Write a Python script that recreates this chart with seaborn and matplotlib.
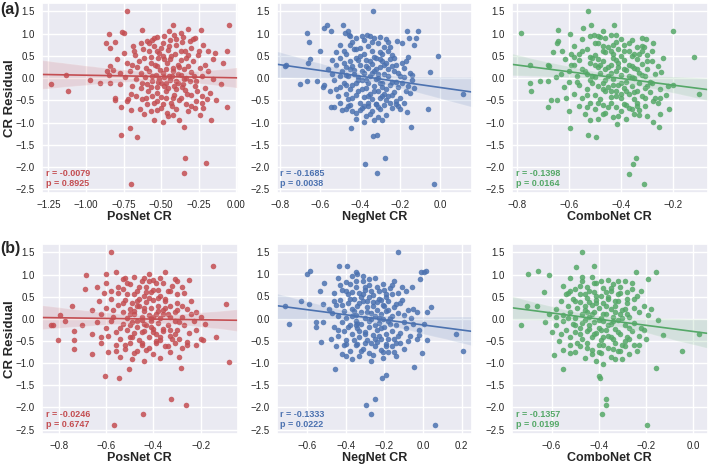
import matplotlib
matplotlib.use("Agg")
import matplotlib.pyplot as plt
from matplotlib.ticker import MultipleLocator
import pandas as pd
import seaborn as sns

# (network CR, CR residual) pairs
pos_a = [
    (-0.727, 1.50), (-0.423, 1.19), (-0.32, 1.10), (-0.236, 1.08), (-0.052, 1.19), (-0.761, 1.03),
    (-0.745, 1.02), (-0.845, 0.99), (-0.626, 1.09), (-0.446, 1.05), (-0.48, 0.95), (-0.412, 0.98),
    (-0.367, 1.01), (-0.356, 0.92), (-0.525, 0.92), (-0.56, 0.86), (-0.277, 0.90), (-0.31, 0.83),
    (-0.867, 0.80), (-0.81, 0.81), (-0.84, 0.68), (-0.75, 0.57), (-0.687, 0.72), (-0.671, 0.53),
    (-0.637, 0.79), (-0.592, 0.83), (-0.58, 0.60), (-0.615, 0.45), (-0.547, 0.72), (-0.514, 0.57),
    (-0.491, 0.79), (-0.457, 0.64), (-0.435, 0.49), (-0.40, 0.75), (-0.367, 0.60), (-0.333, 0.45),
    (-0.30, 0.68), (-0.255, 0.53), (-0.221, 0.75), (-0.187, 0.60), (-0.142, 0.57), (-0.158, 0.42),
    (-0.088, 0.33), (-0.061, 0.62), (-0.795, 0.42), (-0.727, 0.34), (-0.84, 0.27), (-0.694, 0.30),
    (-0.65, 0.38), (-0.57, 0.34), (-0.525, 0.27), (-0.48, 0.42), (-0.39, 0.30), (-0.322, 0.27),
    (-0.29, 0.38), (-0.21, 0.30), (-0.243, 0.23), (-0.863, 0.155), (-0.85, 0.06), (-0.818, 0.19),
    (-0.773, 0.12), (-0.74, 0.02), (-0.705, 0.155), (-0.67, -0.03), (-0.637, 0.12), (-0.61, 0.02),
    (-0.58, 0.155), (-0.56, -0.07), (-0.536, 0.08), (-0.514, -0.01), (-0.49, 0.12), (-0.468, -0.11),
    (-0.446, 0.04), (-0.423, 0.155), (-0.40, -0.055), (-0.367, 0.08), (-0.333, 0.005), (-0.30, 0.14),
    (-0.266, -0.07), (-0.232, 0.04), (-0.187, 0.155), (-0.158, -0.03), (-0.10, -0.13), (-0.84, -0.11),
    (-0.908, -0.10), (-0.975, -0.04), (-1.133, 0.06), (-1.234, -0.13), (-1.12, -0.28), (-0.592, -0.14),
    (-0.525, -0.20), (-0.457, -0.23), (-0.412, -0.18), (-0.345, -0.26), (-0.277, -0.18), (-0.21, -0.23),
    (-0.694, -0.18), (-0.637, -0.23), (-0.773, -0.14), (-0.502, -0.11), (-0.356, -0.13), (-0.311, -0.07),
    (-0.81, -0.44), (-0.81, -0.50), (-0.768, -0.65), (-0.73, -0.52), (-0.70, -0.71), (-0.64, -0.70),
    (-0.615, -0.80), (-0.67, -0.41), (-0.626, -0.48), (-0.592, -0.59), (-0.56, -0.41), (-0.525, -0.52),
    (-0.502, -0.67), (-0.468, -0.44), (-0.435, -0.555), (-0.40, -0.70), (-0.367, -0.44), (-0.333, -0.59),
    (-0.30, -0.37), (-0.266, -0.52), (-0.232, -0.41), (-0.198, -0.48), (-0.135, -0.49), (-0.06, -0.64),
    (-0.17, -0.95), (-0.243, -0.82), (-0.35, -1.10), (-0.547, -0.94), (-0.487, -0.99), (-0.383, -0.95),
    (-0.457, -0.85), (-0.423, -0.82), (-0.57, -0.74), (-0.525, -0.33), (-0.412, -0.37), (-0.322, -0.74),
    (-0.277, -0.67), (-0.176, -0.33), (-0.221, -0.67), (-0.768, -1.28), (-0.705, -1.12), (-0.664, -1.33),
    (-0.70, -2.39), (-0.34, -1.79), (-0.35, -2.14), (-0.20, -1.92),
    (-0.62, 0.65), (-0.60, 0.22), (-0.59, -0.30), (-0.57, 0.48), (-0.56, 0.05), (-0.55, -0.55),
    (-0.54, 0.30), (-0.53, 0.62), (-0.52, -0.08), (-0.51, 0.18), (-0.50, -0.42), (-0.49, 0.50),
    (-0.48, 0.02), (-0.47, -0.28), (-0.46, 0.35), (-0.45, 0.72), (-0.44, -0.05), (-0.43, -0.62),
    (-0.42, 0.22), (-0.41, 0.55), (-0.40, -0.25), (-0.39, 0.10), (-0.38, -0.50), (-0.37, 0.40),
    (-0.36, 0.82), (-0.35, -0.02), (-0.34, 0.60), (-0.33, -0.35), (-0.58, 0.80), (-0.55, 0.90),
    (-0.50, 0.68), (-0.47, 0.20), (-0.44, 0.42), (-0.42, -0.45), (-0.40, 0.88), (-0.38, 0.25),
    (-0.36, -0.20), (-0.60, -0.45), (-0.63, -0.12), (-0.66, 0.25), (-0.68, 0.62), (-0.70, -0.35),
    (-0.72, -0.48), (-0.28, 0.05), (-0.26, -0.30), (-0.25, 0.62), (-0.23, -0.55), (-0.30, -0.62),
    (-0.32, 0.52), (-0.29, 0.88), (-0.53, -0.72), (-0.49, -0.58), (-0.46, -0.78), (-0.44, 0.85),
    (-0.57, -0.20), (-0.52, 0.45), (-0.48, -0.18), (-0.43, 0.05), (-0.39, -0.10), (-0.35, 0.20),
]

neg_a = [
    (-0.336, 1.50), (-0.566, 1.20), (-0.583, 1.13), (-0.549, 1.07), (-0.668, 1.01), (-0.656, 0.81),
    (-0.60, 0.62), (-0.489, 1.19), (-0.476, 1.01), (-0.464, 1.05), (-0.455, 0.98), (-0.365, 0.98),
    (-0.35, 0.94), (-0.165, 1.05), (-0.114, 1.07), (-0.123, 0.90), (-0.216, 0.83), (-0.19, 0.79),
    (-0.012, 0.49), (-0.054, 0.14), (-0.063, -0.70), (-0.148, -1.10), (-0.165, -0.76), (-0.153, -0.33),
    (0.114, -0.35), (-0.771, 0.30), (-0.775, 0.27), (-0.702, -0.13), (-0.668, -0.055), (-0.651, 0.42),
    (-0.663, 0.34), (-0.617, -0.055), (-0.586, -0.20), (-0.549, -0.65), (-0.532, -0.65), (-0.447, -1.12),
    (-0.443, -0.74), (-0.42, -0.93), (-0.336, -1.30), (-0.315, -1.27), (-0.377, -1.94), (-0.315, -2.14),
    (-0.276, -1.80), (-0.032, -2.39), (-0.157, 0.90), (-0.131, 0.75),
    (-0.52, 0.58), (-0.50, 0.75), (-0.47, 0.55), (-0.44, 0.82), (-0.42, 0.66), (-0.40, 0.50),
    (-0.38, 0.85), (-0.36, 0.72), (-0.34, 0.60), (-0.33, 0.90), (-0.31, 0.78), (-0.29, 0.55),
    (-0.28, 0.70), (-0.26, 0.62), (-0.24, 0.52), (-0.45, 0.95), (-0.39, 0.95), (-0.30, 0.92),
    (-0.27, 0.88), (-0.56, 0.20), (-0.54, 0.10), (-0.52, 0.30), (-0.50, 0.45), (-0.49, 0.15),
    (-0.47, 0.25), (-0.46, 0.05), (-0.45, 0.38), (-0.43, 0.18), (-0.42, 0.45), (-0.41, 0.02),
    (-0.40, 0.30), (-0.38, 0.12), (-0.37, 0.40), (-0.36, 0.22), (-0.35, 0.05), (-0.34, 0.32),
    (-0.33, 0.15), (-0.32, 0.45), (-0.31, 0.00), (-0.30, 0.25), (-0.29, 0.38), (-0.28, 0.10),
    (-0.26, 0.20), (-0.25, 0.42), (-0.23, 0.15), (-0.22, 0.30), (-0.20, 0.05), (-0.18, 0.22),
    (-0.17, 0.38), (-0.15, 0.12), (-0.14, 0.08), (-0.48, 0.35), (-0.44, 0.28), (-0.58, -0.15),
    (-0.55, -0.30), (-0.53, -0.05), (-0.51, -0.40), (-0.50, -0.20), (-0.48, -0.10), (-0.47, -0.35),
    (-0.45, -0.25), (-0.44, -0.45), (-0.42, -0.12), (-0.41, -0.30), (-0.39, -0.05), (-0.38, -0.42),
    (-0.37, -0.22), (-0.36, -0.10), (-0.35, -0.35), (-0.34, -0.48), (-0.33, -0.18), (-0.32, -0.02),
    (-0.31, -0.30), (-0.30, -0.45), (-0.29, -0.12), (-0.27, -0.25), (-0.26, -0.40), (-0.24, -0.08),
    (-0.23, -0.32), (-0.21, -0.20), (-0.20, -0.45), (-0.19, -0.10), (-0.17, -0.28), (-0.16, -0.18),
    (-0.14, -0.05), (-0.13, -0.22), (-0.46, -0.48), (-0.50, -0.55), (-0.47, -0.70), (-0.45, -0.60),
    (-0.42, -0.78), (-0.40, -0.55), (-0.39, -0.68), (-0.37, -0.85), (-0.36, -0.62), (-0.34, -0.75),
    (-0.33, -0.95), (-0.32, -0.58), (-0.31, -0.88), (-0.30, -0.70), (-0.28, -0.60), (-0.27, -0.82),
    (-0.25, -0.55), (-0.24, -0.68), (-0.22, -0.52), (-0.21, -0.62), (-0.18, -0.55), (-0.38, -0.98),
    (-0.29, -0.95),
    (-0.48, 0.60), (-0.47, 0.08), (-0.46, -0.62), (-0.45, 0.20), (-0.44, -0.15), (-0.43, 0.65),
    (-0.42, -0.38), (-0.41, 0.40), (-0.40, -0.72), (-0.39, 0.15), (-0.38, 0.55), (-0.37, -0.05),
    (-0.36, -0.55), (-0.35, 0.38), (-0.34, 0.82), (-0.33, -0.30), (-0.32, 0.20), (-0.31, -0.65),
    (-0.30, 0.58), (-0.29, -0.20), (-0.28, 0.30), (-0.27, -0.50), (-0.26, 0.05), (-0.25, 0.70),
    (-0.24, -0.38), (-0.23, 0.45), (-0.22, -0.08), (-0.21, 0.12), (-0.20, -0.70), (-0.19, 0.35),
    (-0.43, 0.10), (-0.41, -0.05), (-0.39, -0.25), (-0.37, 0.28), (-0.35, -0.80), (-0.33, 0.48),
    (-0.31, 0.10), (-0.29, -0.40), (-0.27, 0.35), (-0.25, -0.15), (-0.50, 0.05), (-0.52, -0.25),
    (-0.54, 0.40), (-0.49, -0.72), (-0.45, 0.75), (-0.40, 0.68), (-0.36, -0.40), (-0.34, 0.12),
    (-0.32, -0.58), (-0.30, 0.42), (-0.28, -0.35), (-0.26, 0.82), (-0.24, 0.28), (-0.22, -0.58),
    (-0.18, 0.02), (-0.16, 0.48), (-0.47, -0.15), (-0.38, -0.62), (-0.42, 0.90), (-0.30, -0.10),
]

combo_a = [
    (-0.784, 1.01), (-0.747, 0.29), (-0.747, -0.11), (-0.744, -0.28), (-0.712, -0.07), (-0.68, 0.30),
    (-0.676, 0.27), (-0.679, -0.055), (-0.68, -0.65), (-0.668, -0.50), (-0.646, -0.50), (-0.66, 0.59),
    (-0.646, 0.79), (-0.642, 0.83), (-0.642, 1.09), (-0.626, 0.62), (-0.613, 0.42), (-0.596, 0.99),
    (-0.60, -0.73), (-0.597, -1.13), (-0.528, -1.27), (-0.497, -1.33), (-0.528, 1.50), (-0.547, 1.13),
    (-0.514, 1.19), (-0.505, 0.98), (-0.488, 0.94), (-0.471, 1.05), (-0.429, 1.19), (-0.42, 0.98),
    (-0.321, 0.90), (-0.304, 0.89), (-0.278, 0.79), (-0.313, 0.69), (-0.20, 1.07), (-0.12, 0.47),
    (-0.103, -0.35), (-0.20, -0.16), (-0.247, 0.14), (-0.218, -0.70), (-0.251, -0.80), (-0.278, -0.98),
    (-0.255, -1.10), (-0.278, -0.52), (-0.25, -0.44), (-0.343, -1.79), (-0.353, -1.94), (-0.37, -2.15),
    (-0.311, -2.39), (-0.416, -1.04),
    (-0.58, 0.72), (-0.56, 0.55), (-0.55, 0.88), (-0.53, 0.65), (-0.52, 0.95), (-0.50, 0.52),
    (-0.49, 0.78), (-0.47, 0.60), (-0.46, 0.90), (-0.45, 0.70), (-0.43, 0.55), (-0.42, 0.82),
    (-0.41, 0.65), (-0.40, 0.50), (-0.39, 0.75), (-0.37, 0.62), (-0.36, 0.85), (-0.35, 0.55),
    (-0.34, 0.70), (-0.32, 0.60), (-0.30, 0.52), (-0.44, 0.98), (-0.60, 0.15), (-0.59, 0.30),
    (-0.57, 0.05), (-0.56, 0.40), (-0.55, 0.20), (-0.53, 0.10), (-0.52, 0.35), (-0.51, 0.45),
    (-0.50, 0.02), (-0.49, 0.25), (-0.48, 0.12), (-0.47, 0.38), (-0.46, 0.20), (-0.45, 0.05),
    (-0.44, 0.30), (-0.43, 0.45), (-0.42, 0.15), (-0.41, 0.25), (-0.40, 0.08), (-0.39, 0.40),
    (-0.38, 0.18), (-0.37, 0.30), (-0.36, 0.02), (-0.35, 0.22), (-0.34, 0.42), (-0.33, 0.12),
    (-0.32, 0.32), (-0.31, 0.05), (-0.30, 0.20), (-0.28, 0.38), (-0.27, 0.10), (-0.26, 0.28),
    (-0.63, 0.10), (-0.58, 0.48), (-0.65, 0.02), (-0.62, -0.20), (-0.60, -0.08), (-0.58, -0.35),
    (-0.56, -0.15), (-0.55, -0.45), (-0.53, -0.25), (-0.52, -0.05), (-0.50, -0.38), (-0.49, -0.18),
    (-0.48, -0.48), (-0.47, -0.10), (-0.46, -0.30), (-0.45, -0.20), (-0.44, -0.42), (-0.43, -0.02),
    (-0.42, -0.28), (-0.41, -0.15), (-0.40, -0.45), (-0.39, -0.22), (-0.38, -0.08), (-0.37, -0.35),
    (-0.36, -0.18), (-0.35, -0.48), (-0.34, -0.28), (-0.33, -0.10), (-0.32, -0.40), (-0.31, -0.22),
    (-0.29, -0.32), (-0.28, -0.12), (-0.27, -0.45), (-0.25, -0.25), (-0.23, -0.38), (-0.22, -0.18),
    (-0.56, -0.62), (-0.54, -0.80), (-0.52, -0.55), (-0.50, -0.70), (-0.49, -0.92), (-0.47, -0.60),
    (-0.46, -0.78), (-0.44, -0.55), (-0.43, -0.88), (-0.42, -0.65), (-0.40, -0.75), (-0.39, -0.58),
    (-0.38, -0.92), (-0.37, -0.68), (-0.35, -0.80), (-0.34, -0.56), (-0.33, -0.72), (-0.31, -0.62),
    (-0.30, -0.85), (-0.52, -0.95),
    (-0.55, 0.62), (-0.54, 0.15), (-0.53, -0.38), (-0.52, 0.48), (-0.51, -0.12), (-0.50, 0.78),
    (-0.49, -0.55), (-0.48, 0.30), (-0.47, -0.25), (-0.46, 0.58), (-0.45, -0.65), (-0.44, 0.12),
    (-0.43, 0.75), (-0.42, -0.40), (-0.41, 0.35), (-0.40, -0.10), (-0.39, 0.62), (-0.38, -0.60),
    (-0.37, 0.05), (-0.36, 0.50), (-0.35, -0.32), (-0.34, 0.20), (-0.33, -0.82), (-0.32, 0.72),
    (-0.31, -0.45), (-0.30, 0.38), (-0.29, -0.08), (-0.57, -0.08), (-0.59, 0.55), (-0.61, -0.45),
    (-0.48, 0.92), (-0.46, -0.05), (-0.44, -0.30), (-0.42, 0.40), (-0.40, 0.88), (-0.38, -0.30),
    (-0.36, 0.28), (-0.34, -0.62), (-0.32, 0.08), (-0.28, 0.62), (-0.26, -0.55), (-0.24, 0.45),
    (-0.50, 0.30), (-0.47, 0.72), (-0.45, 0.25), (-0.43, -0.15), (-0.41, -0.85), (-0.39, 0.20),
    (-0.37, 0.78), (-0.35, 0.00), (-0.53, -0.65), (-0.51, 0.05), (-0.49, 0.42), (-0.44, 0.62),
    (-0.40, -0.35), (-0.36, -0.70), (-0.33, 0.55), (-0.30, -0.18), (-0.58, 0.30), (-0.47, -0.80),
]

pos_b = [
    (-0.581, 1.50), (-0.147, 1.19), (-0.092, 0.33), (-0.082, -0.97), (-0.136, -0.41), (-0.688, 0.68),
    (-0.683, 0.98), (-0.742, 0.29), (-0.734, -0.28), (-0.737, -0.48), (-0.737, -0.68), (-0.803, -0.48),
    (-0.834, -0.13), (-0.825, -0.13), (-0.793, 0.08), (-0.775, -0.06), (-0.658, -0.80), (-0.606, -1.28),
    (-0.547, -1.34), (-0.504, -1.13), (-0.565, -2.40), (-0.445, -2.15), (-0.326, -1.80), (-0.264, -1.94),
    (-0.285, -1.12), (-0.60, 1.01),
    (-0.60, 0.80), (-0.58, 0.62), (-0.56, 1.05), (-0.55, 0.72), (-0.53, 0.90), (-0.51, 0.55),
    (-0.50, 0.78), (-0.48, 0.95), (-0.47, 0.62), (-0.45, 0.85), (-0.44, 0.52), (-0.43, 0.72),
    (-0.42, 1.02), (-0.41, 0.60), (-0.40, 0.88), (-0.38, 0.66), (-0.37, 0.52), (-0.36, 0.80),
    (-0.35, 1.05), (-0.33, 0.62), (-0.31, 0.90), (-0.30, 0.55), (-0.28, 0.72), (-0.27, 0.58),
    (-0.25, 0.88), (-0.66, 0.20), (-0.63, 0.40), (-0.62, 0.10), (-0.60, 0.25), (-0.58, 0.45),
    (-0.57, 0.05), (-0.55, 0.32), (-0.53, 0.15), (-0.52, 0.42), (-0.51, 0.02), (-0.50, 0.22),
    (-0.49, 0.35), (-0.48, 0.10), (-0.47, 0.28), (-0.46, 0.45), (-0.45, 0.05), (-0.44, 0.18),
    (-0.43, 0.38), (-0.42, 0.08), (-0.41, 0.25), (-0.40, 0.42), (-0.39, 0.12), (-0.38, 0.30),
    (-0.37, 0.02), (-0.36, 0.20), (-0.35, 0.40), (-0.34, 0.10), (-0.33, 0.28), (-0.31, 0.15),
    (-0.30, 0.35), (-0.28, 0.05), (-0.26, 0.22), (-0.24, 0.40), (-0.22, 0.15), (-0.20, 0.05),
    (-0.19, -0.48), (-0.70, -0.15), (-0.66, -0.35), (-0.64, -0.08), (-0.62, -0.42), (-0.60, -0.20),
    (-0.58, -0.05), (-0.56, -0.30), (-0.54, -0.45), (-0.53, -0.12), (-0.51, -0.25), (-0.50, -0.40),
    (-0.49, -0.08), (-0.48, -0.32), (-0.47, -0.18), (-0.46, -0.48), (-0.45, -0.02), (-0.44, -0.28),
    (-0.43, -0.15), (-0.42, -0.42), (-0.41, -0.05), (-0.40, -0.22), (-0.39, -0.35), (-0.38, -0.10),
    (-0.37, -0.48), (-0.36, -0.28), (-0.34, -0.15), (-0.33, -0.38), (-0.31, -0.05), (-0.30, -0.25),
    (-0.29, -0.45), (-0.27, -0.15), (-0.25, -0.32), (-0.23, -0.05), (-0.22, -0.25), (-0.20, -0.45),
    (-0.18, -0.12), (-0.62, -0.55), (-0.59, -0.75), (-0.56, -0.60), (-0.54, -0.85), (-0.52, -0.68),
    (-0.50, -0.55), (-0.49, -0.90), (-0.47, -0.72), (-0.45, -0.58), (-0.44, -0.95), (-0.42, -0.65),
    (-0.40, -0.80), (-0.39, -0.55), (-0.37, -0.88), (-0.35, -0.62), (-0.33, -0.75), (-0.31, -0.55),
    (-0.29, -0.85), (-0.28, -0.65), (-0.26, -0.52),
    (-0.55, 0.58), (-0.54, -0.20), (-0.53, 0.35), (-0.52, -0.60), (-0.51, 0.80), (-0.50, 0.10),
    (-0.49, -0.42), (-0.48, 0.55), (-0.47, -0.05), (-0.46, 0.72), (-0.45, -0.30), (-0.44, 0.25),
    (-0.43, -0.70), (-0.42, 0.48), (-0.41, 0.02), (-0.40, 0.65), (-0.39, -0.50), (-0.38, 0.18),
    (-0.37, 0.92), (-0.36, -0.22), (-0.35, 0.45), (-0.34, -0.62), (-0.33, 0.05), (-0.32, 0.75),
    (-0.31, -0.35), (-0.30, 0.20), (-0.29, -0.08), (-0.57, 0.20), (-0.59, -0.38), (-0.61, 0.58),
    (-0.52, 0.92), (-0.48, -0.78), (-0.46, 0.30), (-0.44, -0.12), (-0.42, 0.85), (-0.40, -0.30),
    (-0.38, 0.48), (-0.36, 0.10), (-0.34, 0.62), (-0.32, -0.45), (-0.28, 0.30), (-0.26, -0.60),
    (-0.24, 0.12), (-0.50, -0.15), (-0.47, 0.40), (-0.45, -0.55), (-0.43, 0.60), (-0.41, -0.18),
    (-0.39, 0.80), (-0.37, -0.40), (-0.35, 0.25), (-0.53, 0.68), (-0.56, -0.72), (-0.48, 0.18),
    (-0.44, 0.92), (-0.40, 0.05), (-0.33, -0.25), (-0.30, 0.85), (-0.64, 0.72), (-0.22, -0.60),
]

neg_b = [
    (-0.129, 1.49), (-0.60, 1.01), (-0.584, 1.07), (-0.634, 0.39), (-0.589, 0.32), (-0.714, 0.29),
    (-0.696, -0.13), (-0.554, -0.07), (-0.554, -0.18), (-0.53, -0.52), (-0.536, 0.62), (-0.512, 0.81),
    (-0.518, 0.32), (-0.518, -0.08), (-0.455, -1.13), (-0.434, 1.19), (-0.393, 1.19), (-0.348, 1.04),
    (-0.009, 1.05), (0.005, 1.05), (0.018, 1.07), (-0.018, 0.90), (0.041, 0.27), (0.023, 0.14),
    (0.005, -0.13), (-0.023, -0.37), (-0.03, -0.46), (0.023, -0.48), (-0.005, -0.78), (-0.048, -1.10),
    (0.173, -0.35), (0.209, -0.73), (0.062, -2.40), (-0.214, -1.33), (-0.191, -1.28), (-0.25, -1.80),
    (-0.295, -1.94), (-0.271, -2.15), (-0.052, 0.21), (-0.059, 0.71),
    (-0.44, 0.92), (-0.42, 0.65), (-0.40, 0.82), (-0.39, 0.55), (-0.37, 0.95), (-0.35, 0.70),
    (-0.33, 0.58), (-0.31, 0.85), (-0.30, 0.65), (-0.28, 0.75), (-0.26, 0.52), (-0.25, 0.92),
    (-0.23, 0.62), (-0.21, 0.78), (-0.19, 0.55), (-0.17, 0.68), (-0.15, 0.85), (-0.13, 0.58),
    (-0.11, 0.72), (-0.09, 0.62), (-0.46, 0.58), (-0.34, 1.00), (-0.47, 0.12), (-0.45, 0.30),
    (-0.44, 0.05), (-0.43, 0.42), (-0.41, 0.18), (-0.40, 0.02), (-0.39, 0.35), (-0.37, 0.22),
    (-0.36, 0.45), (-0.35, 0.08), (-0.34, 0.28), (-0.32, 0.15), (-0.31, 0.40), (-0.30, 0.02),
    (-0.29, 0.25), (-0.27, 0.12), (-0.26, 0.38), (-0.25, 0.05), (-0.24, 0.20), (-0.23, 0.45),
    (-0.22, 0.10), (-0.21, 0.30), (-0.19, 0.18), (-0.18, 0.40), (-0.16, 0.05), (-0.15, 0.25),
    (-0.13, 0.12), (-0.12, 0.35), (-0.10, 0.08), (-0.08, 0.20), (-0.06, 0.02), (-0.03, 0.15),
    (-0.49, 0.22), (-0.28, 0.48), (-0.46, -0.20), (-0.44, -0.40), (-0.42, -0.08), (-0.41, -0.28),
    (-0.40, -0.48), (-0.38, -0.15), (-0.37, -0.35), (-0.35, -0.05), (-0.34, -0.22), (-0.33, -0.42),
    (-0.32, -0.12), (-0.30, -0.30), (-0.29, -0.48), (-0.28, -0.18), (-0.27, -0.02), (-0.26, -0.38),
    (-0.24, -0.25), (-0.23, -0.10), (-0.22, -0.45), (-0.20, -0.20), (-0.19, -0.35), (-0.18, -0.05),
    (-0.16, -0.28), (-0.15, -0.45), (-0.14, -0.15), (-0.12, -0.32), (-0.10, -0.08), (-0.09, -0.22),
    (-0.07, -0.40), (-0.05, -0.12), (-0.02, -0.25), (-0.48, -0.45), (-0.45, -0.62), (-0.42, -0.80),
    (-0.40, -0.58), (-0.38, -0.72), (-0.37, -0.92), (-0.35, -0.60), (-0.33, -0.85), (-0.31, -0.68),
    (-0.30, -0.55), (-0.28, -0.78), (-0.27, -0.95), (-0.25, -0.62), (-0.24, -0.52), (-0.22, -0.70),
    (-0.21, -0.88), (-0.19, -0.58), (-0.18, -0.75), (-0.16, -0.62), (-0.14, -0.85), (-0.12, -0.55),
    (-0.10, -0.68),
    (-0.42, 0.30), (-0.41, -0.60), (-0.40, 0.62), (-0.39, -0.20), (-0.38, 0.45), (-0.37, 0.05),
    (-0.36, -0.48), (-0.35, 0.85), (-0.34, -0.10), (-0.33, 0.35), (-0.32, -0.72), (-0.31, 0.55),
    (-0.30, -0.35), (-0.29, 0.15), (-0.28, 0.88), (-0.27, -0.55), (-0.26, 0.28), (-0.25, -0.15),
    (-0.24, 0.70), (-0.23, -0.40), (-0.22, 0.42), (-0.21, 0.00), (-0.20, 0.65), (-0.19, -0.62),
    (-0.18, 0.20), (-0.17, -0.12), (-0.16, 0.55), (-0.15, -0.75), (-0.14, 0.32), (-0.13, -0.40),
    (-0.38, 0.78), (-0.36, 0.18), (-0.34, -0.58), (-0.32, 0.48), (-0.30, 0.72), (-0.28, -0.05),
    (-0.26, -0.82), (-0.24, 0.38), (-0.22, -0.22), (-0.20, 0.28), (-0.18, -0.45), (-0.16, 0.75),
    (-0.44, -0.25), (-0.46, 0.40), (-0.40, -0.85), (-0.37, 0.60), (-0.33, -0.28), (-0.29, 0.40),
    (-0.27, 0.62), (-0.25, -0.45), (-0.23, 0.02), (-0.21, -0.75), (-0.19, 0.48), (-0.17, 0.02),
    (-0.14, -0.55), (-0.11, 0.42), (-0.08, -0.50), (-0.35, -0.15), (-0.31, 0.95), (-0.43, 0.75),
]

combo_b = [
    (-0.47, 1.50), (-0.70, 1.01), (-0.657, 1.07), (-0.609, 0.98), (-0.704, 0.29), (-0.663, 0.30),
    (-0.73, -0.13), (-0.628, -0.07), (-0.631, 0.60), (-0.59, -0.82), (-0.55, -1.13), (-0.156, 1.05),
    (-0.244, 1.05), (-0.193, 0.89), (-0.178, 0.23), (-0.149, -0.03), (-0.127, -0.37), (-0.159, -1.10),
    (-0.047, -0.73), (0.023, -0.35), (-0.196, -2.40), (-0.385, -2.15), (-0.368, -1.94), (-0.368, -1.80),
    (-0.397, -1.28), (-0.394, -1.33), (-0.419, 1.19), (-0.495, 1.16),
    (-0.55, 0.75), (-0.53, 0.58), (-0.52, 0.92), (-0.50, 0.68), (-0.48, 0.55), (-0.47, 0.85),
    (-0.45, 0.72), (-0.43, 0.95), (-0.42, 0.60), (-0.41, 0.80), (-0.39, 0.52), (-0.38, 0.70),
    (-0.36, 0.88), (-0.35, 0.62), (-0.34, 0.78), (-0.32, 0.55), (-0.31, 0.72), (-0.29, 0.85),
    (-0.28, 0.60), (-0.26, 0.68), (-0.24, 0.52), (-0.22, 0.62), (-0.58, 0.22), (-0.56, 0.40),
    (-0.55, 0.08), (-0.53, 0.30), (-0.52, 0.15), (-0.51, 0.45), (-0.50, 0.02), (-0.49, 0.25),
    (-0.48, 0.38), (-0.47, 0.10), (-0.46, 0.20), (-0.45, 0.48), (-0.44, 0.05), (-0.43, 0.32),
    (-0.42, 0.15), (-0.41, 0.42), (-0.40, 0.25), (-0.39, 0.02), (-0.38, 0.35), (-0.37, 0.12),
    (-0.36, 0.45), (-0.35, 0.22), (-0.34, 0.05), (-0.33, 0.30), (-0.32, 0.40), (-0.31, 0.12),
    (-0.30, 0.20), (-0.28, 0.35), (-0.27, 0.05), (-0.25, 0.25), (-0.23, 0.15), (-0.21, 0.30),
    (-0.19, 0.08), (-0.61, 0.10), (-0.60, -0.30), (-0.58, -0.15), (-0.57, -0.50), (-0.55, -0.05),
    (-0.54, -0.25), (-0.52, -0.40), (-0.51, -0.12), (-0.50, -0.30), (-0.48, -0.20), (-0.47, -0.45),
    (-0.46, -0.02), (-0.45, -0.28), (-0.44, -0.15), (-0.43, -0.42), (-0.42, -0.08), (-0.41, -0.32),
    (-0.40, -0.20), (-0.39, -0.48), (-0.38, -0.05), (-0.37, -0.25), (-0.36, -0.38), (-0.35, -0.12),
    (-0.34, -0.45), (-0.33, -0.22), (-0.32, -0.02), (-0.31, -0.35), (-0.29, -0.15), (-0.28, -0.42),
    (-0.26, -0.28), (-0.25, -0.10), (-0.23, -0.38), (-0.22, -0.20), (-0.20, -0.45), (-0.55, -0.70),
    (-0.52, -0.58), (-0.50, -0.75), (-0.48, -0.62), (-0.46, -0.88), (-0.45, -0.55), (-0.43, -0.70),
    (-0.41, -0.95), (-0.40, -0.60), (-0.39, -0.78), (-0.38, -1.02), (-0.36, -0.65), (-0.35, -0.85),
    (-0.33, -0.55), (-0.32, -0.72), (-0.30, -0.90), (-0.29, -0.62), (-0.27, -0.80), (-0.25, -0.58),
    (-0.24, -0.72),
    (-0.50, 0.40), (-0.49, -0.55), (-0.48, 0.75), (-0.47, -0.10), (-0.46, 0.30), (-0.45, -0.65),
    (-0.44, 0.62), (-0.43, 0.10), (-0.42, -0.35), (-0.41, 0.52), (-0.40, -0.02), (-0.39, 0.85),
    (-0.38, -0.58), (-0.37, 0.28), (-0.36, -0.15), (-0.35, 0.70), (-0.34, -0.68), (-0.33, 0.15),
    (-0.32, -0.30), (-0.31, 0.58), (-0.30, 0.02), (-0.29, -0.50), (-0.28, 0.45), (-0.27, -0.20),
    (-0.26, 0.80), (-0.53, 0.02), (-0.52, -0.78), (-0.54, 0.55), (-0.56, -0.35), (-0.47, 0.95),
    (-0.45, 0.15), (-0.43, -0.80), (-0.41, 0.35), (-0.39, -0.25), (-0.37, 0.60), (-0.35, -0.42),
    (-0.33, 0.40), (-0.31, -0.72), (-0.29, 0.22), (-0.27, -0.45), (-0.25, 0.45), (-0.23, -0.60),
    (-0.48, -0.35), (-0.46, 0.55), (-0.44, -0.22), (-0.42, 0.80), (-0.40, -0.75), (-0.38, 0.10),
    (-0.36, 0.50), (-0.34, -0.05), (-0.32, 0.85), (-0.30, -0.60), (-0.52, 0.62), (-0.50, -0.15),
    (-0.44, 0.38), (-0.38, -0.40), (-0.33, -0.90), (-0.28, 0.10), (-0.21, -0.25), (-0.58, 0.05),
]

x_labels = ["PosNet CR", "NegNet CR", "ComboNet CR"]
stats_a = ["r = -0.0079\np = 0.8925", "r = -0.1685\np = 0.0038", "r = -0.1398\np = 0.0164"]
stats_b = ["r = -0.0246\np = 0.6747", "r = -0.1333\np = 0.0222", "r = -0.1357\np = 0.0199"]
row_tags = ["(a)", "(b)"]

sns.set_theme(style="darkgrid")
plt.rcParams["font.family"] = ["Liberation Sans", "DejaVu Sans"]
colors = sns.color_palette("deep")
panel_colors = [colors[3], colors[0], colors[2]]

fig = plt.figure(figsize=(7.09, 4.66), dpi=100)
lefts = [0.059, 0.390, 0.722]
bottoms = [0.586, 0.069]
w, h = 0.276, 0.408

rows = [[pos_a, neg_a, combo_a], [pos_b, neg_b, combo_b]]
stats = [stats_a, stats_b]

for r in range(2):
    for c in range(3):
        ax = fig.add_axes([lefts[c], bottoms[r], w, h])
        df = pd.DataFrame(rows[r][c], columns=["x", "resid"])
        sns.regplot(
            data=df, x="x", y="resid", ax=ax,
            color=panel_colors[c], truncate=False, seed=0,
            scatter_kws={"s": 16, "alpha": 0.85, "linewidths": 0},
            line_kws={"lw": 1.2},
        )
        ax.yaxis.set_major_locator(MultipleLocator(0.5))
        ax.tick_params(labelsize=7, length=0, pad=5)
        ax.set_xlabel(x_labels[c], fontsize=9, fontweight="bold", labelpad=1)
        if c == 0:
            ax.set_ylabel("CR Residual", fontsize=9.5, fontweight="bold")
            ax.yaxis.set_label_coords(-0.13, 0.5)
        else:
            ax.set_ylabel("")
        ax.text(0.02, 0.025, stats[r][c], transform=ax.transAxes,
                ha="left", va="bottom", fontsize=6.5, fontweight="bold",
                color=panel_colors[c], linespacing=1.1)

fig.text(0.001, 0.995, row_tags[0], ha="left", va="top", fontsize=11.5, fontweight="bold")
fig.text(0.001, 0.483, row_tags[1], ha="left", va="top", fontsize=11.5, fontweight="bold")

fig.savefig("out.png", dpi=100)
